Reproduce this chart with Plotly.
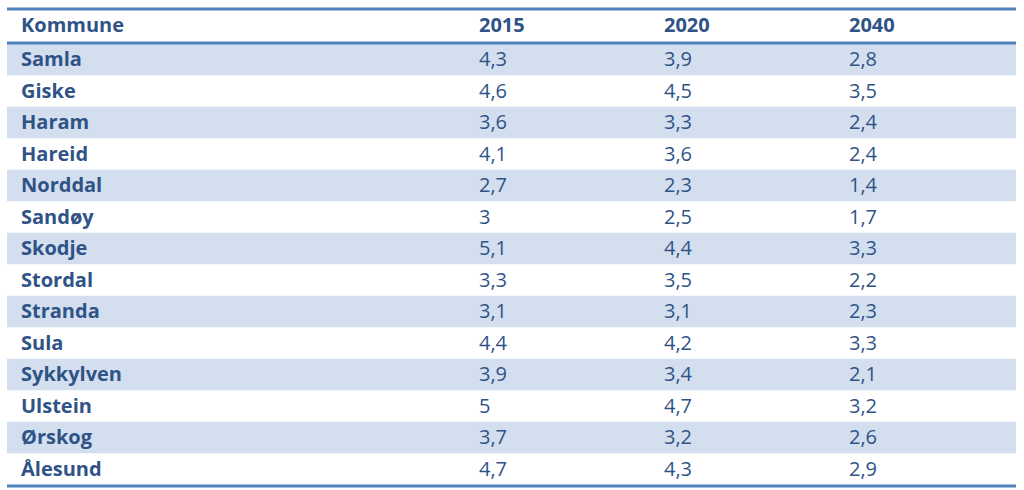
import plotly.graph_objects as go

# ---- data ----
header = ["Kommune", "2015", "2020", "2040"]
kommuner = ["Samla", "Giske", "Haram", "Hareid", "Norddal", "Sandøy", "Skodje",
            "Stordal", "Stranda", "Sula", "Sykkylven", "Ulstein", "Ørskog", "Ålesund"]
v2015 = [4.3, 4.6, 3.6, 4.1, 2.7, 3.0, 5.1, 3.3, 3.1, 4.4, 3.9, 5.0, 3.7, 4.7]
v2020 = [3.9, 4.5, 3.3, 3.6, 2.3, 2.5, 4.4, 3.5, 3.1, 4.2, 3.4, 4.7, 3.2, 4.3]
v2040 = [2.8, 3.5, 2.4, 2.4, 1.4, 1.7, 3.3, 2.2, 2.3, 3.3, 2.1, 3.2, 2.6, 2.9]

# ---- layout constants ----
W, H = 1024, 490
TABLE_L, TABLE_R = 7, 1016
COL_X = [21, 479, 664, 849]
HEADER_Y = 25.5
ROW0_Y = 59.5
PITCH = 31.5
TEXT_DY = 1.5
LINE_COLOR = "#4f81bd"
STRIPE = "#d3dfee"
TEXT_COLOR = "#2f5387"
FONT = "Open Sans"
FSIZE = 20


def fmt(v):
    return f"{v:g}".replace(".", ",")


row_y = [ROW0_Y + i * PITCH for i in range(len(kommuner))]
text_y = [y + TEXT_DY for y in row_y]

fig = go.Figure()

shapes = []
for i, y in enumerate(row_y):
    if i % 2 == 0:
        shapes.append(dict(type="rect", xref="x", yref="y", x0=TABLE_L, x1=TABLE_R,
                           y0=y - PITCH / 2, y1=y + PITCH / 2,
                           fillcolor=STRIPE, line=dict(width=0), layer="below"))
for ly in [9, 43, row_y[-1] + PITCH / 2 + 1.2]:
    shapes.append(dict(type="line", xref="x", yref="y", x0=TABLE_L, x1=TABLE_R,
                       y0=ly, y1=ly, line=dict(color=LINE_COLOR, width=3)))

# header
fig.add_trace(go.Scatter(
    x=COL_X, y=[HEADER_Y + TEXT_DY] * len(header), text=header, mode="text",
    textposition="middle right",
    textfont=dict(family=FONT, size=FSIZE, color=TEXT_COLOR, weight="bold"),
    hoverinfo="skip", showlegend=False))

# first column
fig.add_trace(go.Scatter(
    x=[COL_X[0]] * len(kommuner), y=text_y, text=kommuner, mode="text",
    textposition="middle right",
    textfont=dict(family=FONT, size=FSIZE, color=TEXT_COLOR, weight="bold"),
    hoverinfo="skip", showlegend=False))

# value columns
for cx, vals in zip(COL_X[1:], [v2015, v2020, v2040]):
    fig.add_trace(go.Scatter(
        x=[cx] * len(vals), y=text_y, text=[fmt(v) for v in vals], mode="text",
        textposition="middle right",
        textfont=dict(family=FONT, size=FSIZE, color=TEXT_COLOR),
        hoverinfo="skip", showlegend=False))

fig.update_layout(
    width=W, height=H,
    margin=dict(l=0, r=0, t=0, b=0),
    paper_bgcolor="white", plot_bgcolor="white",
    shapes=shapes,
    xaxis=dict(range=[0, W], visible=False, fixedrange=True),
    yaxis=dict(range=[H, 0], visible=False, fixedrange=True),
)

fig.write_html(
    "out.html",
    config={"displayModeBar": False},
    post_script="document.body.style.margin='0';document.body.style.overflow='hidden';",
)
